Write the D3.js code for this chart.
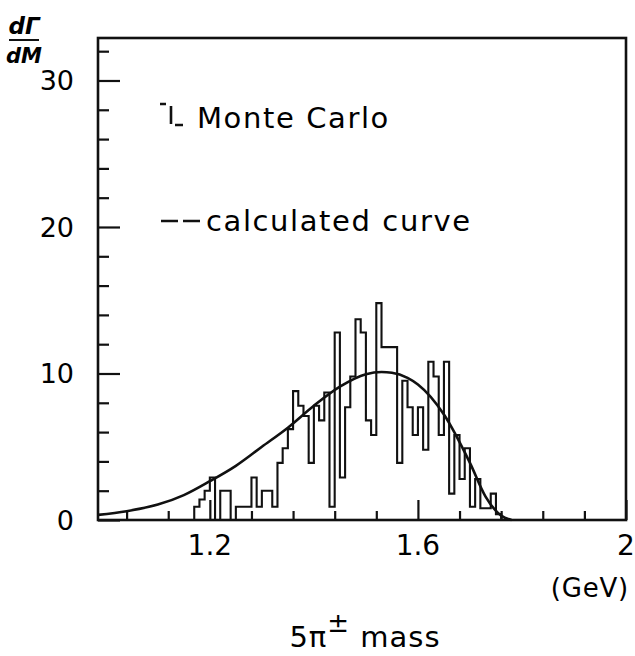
<!DOCTYPE html>
<html>
<head>
<meta charset="utf-8">
<script src="https://cdn.jsdelivr.net/npm/d3@7"></script>
<style>
  html, body { margin: 0; padding: 0; background: #fff; }
  svg { display: block; }
  text { font-family: "DejaVu Sans", "Liberation Sans", sans-serif; fill: #000; }
</style>
</head>
<body>
<svg id="chart" width="635" height="656"></svg>
<script>
// Monte Carlo histogram: left bin edges (GeV) and bin contents
const binEdges = [1.17, 1.18, 1.19, 1.20, 1.21, 1.22, 1.23, 1.24, 1.25, 1.26,
                  1.27, 1.28, 1.29, 1.30, 1.31, 1.32, 1.33, 1.34, 1.35, 1.36,
                  1.37, 1.38, 1.39, 1.40, 1.41, 1.42, 1.43, 1.44, 1.45, 1.46,
                  1.47, 1.48, 1.49, 1.50, 1.51, 1.52, 1.53, 1.54, 1.55, 1.56,
                  1.57, 1.58, 1.59, 1.60, 1.61, 1.62, 1.63, 1.64, 1.65, 1.66,
                  1.67, 1.68, 1.69, 1.70, 1.71, 1.72, 1.73, 1.74, 1.75, 1.76];
const binValues = [0.9, 1.4, 2.0, 2.9, 0, 2.0, 2.0, 0, 0.9, 0.9,
                   0.9, 2.9, 0.9, 2.0, 2.0, 0.9, 3.9, 4.9, 6.2, 8.8,
                   7.8, 7.1, 3.9, 7.8, 6.8, 8.7, 0.9, 12.8, 2.9, 7.7,
                   9.8, 13.7, 12.8, 6.8, 5.8, 14.8, 11.8, 11.8, 11.8, 3.9,
                   9.5, 7.7, 5.8, 7.7, 4.8, 10.8, 9.8, 5.8, 10.8, 1.8,
                   5.8, 2.8, 4.9, 0.9, 2.8, 0.8, 0.8, 1.8, 0.4];

// calculated curve
const curveMass = [0.985, 1.04, 1.10, 1.15, 1.20, 1.25, 1.30, 1.35, 1.40, 1.45,
                   1.50, 1.53, 1.55, 1.58, 1.60, 1.65, 1.70, 1.73, 1.76, 1.78];
const curveRate = [0.35, 0.6, 1.05, 1.7, 2.65, 3.7, 5.0, 6.3, 7.8, 9.1,
                   9.95, 10.1, 10.05, 9.7, 9.25, 7.2, 3.9, 1.6, 0.3, 0.0];

// axis ticks
const xMajorTicks = [1.2, 1.6, 2.0];
const xTickLabels = ["1.2", "1.6", "2"];
const xMinorTicks = [1.04, 1.12, 1.28, 1.36, 1.44, 1.52, 1.68, 1.76, 1.84, 1.92];
const yMajorTicks = [0, 10, 20, 30];
const yTickLabels = ["0", "10", "20", "30"];
const yMinorTicks = [2, 4, 6, 8, 12, 14, 16, 18, 22, 24, 26, 28, 32];

const svg = d3.select("#chart");
const plot = { left: 98, right: 626, top: 38, bottom: 520 };

const x = d3.scaleLinear().domain([0.985, 2.0]).range([plot.left, plot.right]);
const y = d3.scaleLinear().domain([0, 32.9]).range([plot.bottom, plot.top]);

// inward ticks on the bottom and left edges
const ink = "#111";
const bottomMinor = d3.axisBottom(x).tickValues(xMinorTicks).tickSize(-9).tickFormat("");
const bottomMajor = d3.axisBottom(x).tickValues(xMajorTicks).tickSize(-20).tickFormat("");
const leftMinor = d3.axisLeft(y).tickValues(yMinorTicks).tickSize(-11).tickFormat("");
const leftMajor = d3.axisLeft(y).tickValues(yMajorTicks).tickSize(-22).tickFormat("");

[[bottomMinor, "translate(0," + plot.bottom + ")"],
 [bottomMajor, "translate(0," + plot.bottom + ")"],
 [leftMinor, "translate(" + plot.left + ",0)"],
 [leftMajor, "translate(" + plot.left + ",0)"]].forEach(([ax, tr]) => {
  const g = svg.append("g").attr("transform", tr).call(ax);
  g.select(".domain").remove();
  g.selectAll(".tick line").attr("stroke", ink).attr("stroke-width", 2.2);
});

// frame
svg.append("rect")
  .attr("x", plot.left).attr("y", plot.top)
  .attr("width", plot.right - plot.left).attr("height", plot.bottom - plot.top)
  .attr("fill", "none").attr("stroke", ink).attr("stroke-width", 2.6);

// tick labels
svg.append("g").selectAll("text").data(xMajorTicks).join("text")
  .attr("x", d => x(d)).attr("y", 555)
  .attr("text-anchor", "middle").attr("font-size", 28)
  .text((d, i) => xTickLabels[i]);

svg.append("g").selectAll("text").data(yMajorTicks).join("text")
  .attr("x", 74).attr("y", d => y(d) + 10)
  .attr("text-anchor", "end").attr("font-size", 27)
  .text((d, i) => yTickLabels[i]);

// histogram outline
const hist = d3.path();
hist.moveTo(x(binEdges[0]), y(0));
binValues.forEach((v, i) => {
  hist.lineTo(x(binEdges[i]), y(v));
  hist.lineTo(x(binEdges[i + 1]), y(v));
});
hist.lineTo(x(binEdges[binEdges.length - 1]), y(0));
svg.append("path").attr("d", hist.toString())
  .attr("fill", "none").attr("stroke", ink).attr("stroke-width", 2.1)
  .attr("stroke-linejoin", "miter");

// calculated curve
const line = d3.line()
  .x((d, i) => x(curveMass[i]))
  .y(d => y(d))
  .curve(d3.curveMonotoneX);
svg.append("path").datum(curveRate).attr("d", line)
  .attr("fill", "none").attr("stroke", ink).attr("stroke-width", 2.6);

// legend
const leg = svg.append("g").attr("stroke", ink).attr("stroke-width", 2.6).attr("fill", "none");
leg.append("path").attr("d", "M160,104 H166 M171,106 V124 M175,125 H183");
leg.append("path").attr("d", "M161,221 H178 M183,221 H200");
svg.append("text").attr("x", 197).attr("y", 128).attr("font-size", 29)
  .attr("letter-spacing", 1.6).text("Monte Carlo");
svg.append("text").attr("x", 206).attr("y", 231).attr("font-size", 29)
  .attr("letter-spacing", 1.6).text("calculated curve");

// axis titles
svg.append("text").attr("x", 629).attr("y", 597).attr("text-anchor", "end")
  .attr("font-size", 26).attr("letter-spacing", 0.8).text("(GeV)");
const xt = svg.append("text").attr("x", 365).attr("y", 647).attr("text-anchor", "middle")
  .attr("font-size", 29).attr("letter-spacing", 1);
xt.append("tspan").text("5π");
xt.append("tspan").attr("dy", -15).attr("font-size", 26).text("±");
xt.append("tspan").attr("dy", 15).text(" mass");

const yt = svg.append("g");
yt.append("text").attr("x", 24).attr("y", 34).attr("text-anchor", "middle")
  .attr("font-size", 23).attr("font-weight", "bold").attr("font-style", "italic").text("dΓ");
yt.append("line").attr("x1", 9).attr("x2", 39).attr("y1", 40).attr("y2", 40)
  .attr("stroke", ink).attr("stroke-width", 2);
yt.append("text").attr("x", 24).attr("y", 63).attr("text-anchor", "middle")
  .attr("font-size", 21).attr("font-weight", "bold").attr("font-style", "italic").text("dM");
</script>
</body>
</html>
